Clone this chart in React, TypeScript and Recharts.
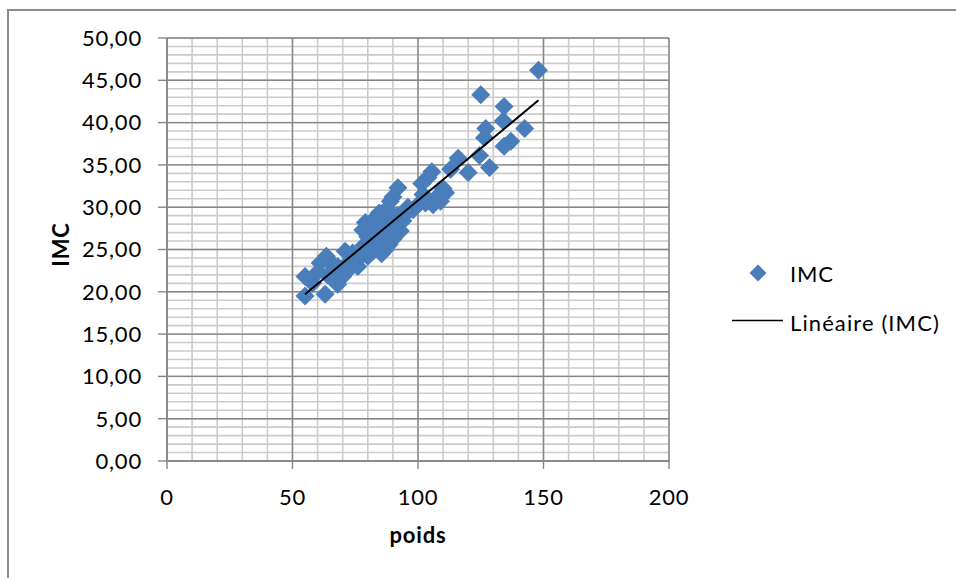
import React from 'react';
import {
  ScatterChart,
  Scatter,
  XAxis,
  YAxis,
  CartesianGrid,
  Legend,
} from 'recharts';

// Body weight (kg) and matching body-mass index for each person
const poids = [
  55, 55, 58, 60, 61, 63, 63.5, 64, 65, 66,
  68, 68, 69, 70, 71, 72, 73, 74, 75, 76,
  77, 78, 78.5, 79, 80, 80, 81, 81.5, 82, 82.5,
  83, 84, 84.5, 85, 85.5, 86, 86.5, 87, 87.5, 88,
  88.5, 89, 89.5, 90, 90, 91, 92, 92, 93, 94,
  95, 96, 98, 100, 101.5, 102, 103, 104, 105.5, 106,
  107, 108.5, 109, 110, 111, 113, 116, 120, 124.5, 125,
  126.5, 127, 128.5, 134, 134.3, 134.3, 137, 142.5, 148,
];
const imc = [
  19.5, 21.8, 21.0, 22.3, 23.4, 19.7, 24.2, 22.0, 23.6, 21.5,
  20.9, 23.0, 22.2, 21.8, 24.8, 23.4, 22.8, 24.6, 23.5, 23.0,
  24.2, 27.3, 25.5, 28.2, 26.5, 24.2, 27.8, 25.8, 24.8, 28.6,
  26.8, 25.2, 29.3, 27.5, 24.5, 26.2, 28.4, 25.0, 29.8, 27.0,
  25.6, 30.7, 28.0, 31.2, 26.2, 27.5, 32.3, 29.0, 27.2, 28.4,
  29.2, 30.0, 29.7, 30.3, 32.8, 31.5, 30.5, 33.5, 34.2, 30.3,
  31.0, 31.5, 30.7, 32.2, 31.7, 34.5, 35.8, 34.1, 36.1, 43.3,
  38.2, 39.3, 34.7, 40.2, 41.9, 37.2, 37.8, 39.3, 46.2,
];

const xTicks = [0, 50, 100, 150, 200];
const yTicks = [0, 5, 10, 15, 20, 25, 30, 35, 40, 45, 50];
const xMinorStep = 10;
const yMinorStep = 1;

const points = poids.map((p, i) => ({ poids: p, imc: imc[i] }));

// Least-squares fit used for the linear trend line
function linearFit(xs: number[], ys: number[]) {
  const n = xs.length;
  const mx = xs.reduce((s, v) => s + v, 0) / n;
  const my = ys.reduce((s, v) => s + v, 0) / n;
  let sxy = 0;
  let sxx = 0;
  for (let i = 0; i < n; i++) {
    sxy += (xs[i] - mx) * (ys[i] - my);
    sxx += (xs[i] - mx) * (xs[i] - mx);
  }
  const slope = sxy / sxx;
  return { slope, intercept: my - slope * mx };
}

const fit = linearFit(poids, imc);
const trend = [Math.min(...poids), Math.max(...poids)].map((x) => ({
  poids: x,
  imc: fit.intercept + fit.slope * x,
}));

const steps = (max: number, step: number) => {
  const out: number[] = [];
  for (let v = 0; v <= max + 1e-9; v += step) out.push(v);
  return out;
};
const xMinor = steps(200, xMinorStep);
const yMinor = steps(50, yMinorStep);

const FONT = 'Lato, Carlito, Calibri, "Open Sans", sans-serif';
const SPACING = 0.8;
const BLUE = '#4a7ebb';
const AXIS_GRAY = '#868686';

const Diamond = (props: any) => {
  const { cx, cy } = props;
  if (cx == null || cy == null) return null;
  const r = 9.5;
  return (
    <path
      d={`M${cx},${cy - r} L${cx + r},${cy} L${cx},${cy + r} L${cx - r},${cy} Z`}
      fill={BLUE}
    />
  );
};

const NoPoint = () => <g />;

const fmt = (v: number) => v.toFixed(2).replace('.', ',');

const YTitle = (props: any) => {
  const { viewBox } = props;
  const cx = viewBox.x - 18;
  const cy = viewBox.y + viewBox.height / 2 - 5;
  return (
    <text
      x={cx}
      y={cy}
      transform={`rotate(-90, ${cx}, ${cy})`}
      textAnchor="middle"
      fontFamily={FONT}
      fontWeight="bold"
      fontSize={22}
      letterSpacing={SPACING}
      fill="#000"
    >
      IMC
    </text>
  );
};

const XTitle = (props: any) => {
  const { viewBox } = props;
  const cx = viewBox.x + viewBox.width / 2;
  const cy = viewBox.y + 82;
  return (
    <text
      x={cx}
      y={cy}
      textAnchor="middle"
      fontFamily={FONT}
      fontWeight="bold"
      fontSize={22}
      letterSpacing={SPACING}
      fill="#000"
    >
      poids
    </text>
  );
};

const LegendContent = (props: any) => {
  const payload = props.payload || [];
  const items = payload.map((p: any) => p.value);
  return (
    <svg width={230} height={90} style={{ display: 'block', overflow: 'visible' }}>
      <path d="M33,9.5 L41.5,18 L33,26.5 L24.5,18 Z" fill={BLUE} />
      <text x={65} y={26.5} fontFamily={FONT} fontSize={22} letterSpacing={SPACING} fill="#000">
        {items[0]}
      </text>
      <line x1={7} y1={65.5} x2={58} y2={65.5} stroke="#000" strokeWidth={1.5} />
      <text x={65} y={75.5} fontFamily={FONT} fontSize={22} letterSpacing={1.1} fill="#000">
        {items[1]}
      </text>
    </svg>
  );
};

const tickStyle = { fill: '#000', fontSize: 22, fontFamily: FONT, letterSpacing: SPACING };

export default function App() {
  return (
    <div
      style={{
        position: 'absolute',
        left: 0,
        top: 0,
        width: 956,
        height: 578,
        overflow: 'hidden',
        background: '#fff',
      }}
    >
      <div
        style={{
          position: 'absolute',
          left: 7,
          top: 9,
          width: 1100,
          height: 1100,
          border: '2px solid #8c8c8c',
        }}
      />
      <div style={{ position: 'absolute', left: 0, top: 0 }}>
        <ScatterChart
          width={956}
          height={578}
          margin={{ top: 38, right: 287, left: 87, bottom: 57 }}
        >
          <CartesianGrid
            horizontalValues={yMinor}
            verticalValues={xMinor}
            stroke="#cbcbcb"
            strokeWidth={1.6}
          />
          <CartesianGrid stroke={AXIS_GRAY} strokeWidth={1.4} />
          <XAxis
            type="number"
            dataKey="poids"
            domain={[0, 200]}
            ticks={xTicks}
            interval={0}
            height={60}
            tickSize={8}
            tickMargin={20}
            axisLine={{ stroke: AXIS_GRAY, strokeWidth: 1.4 }}
            tickLine={{ stroke: AXIS_GRAY, strokeWidth: 1.4 }}
            tick={tickStyle}
            label={<XTitle />}
          />
          <YAxis
            type="number"
            dataKey="imc"
            domain={[0, 50]}
            ticks={yTicks}
            interval={0}
            width={80}
            tickSize={9}
            tickMargin={16}
            tickFormatter={fmt}
            axisLine={{ stroke: AXIS_GRAY, strokeWidth: 1.4 }}
            tickLine={{ stroke: AXIS_GRAY, strokeWidth: 1.4 }}
            tick={tickStyle}
            label={<YTitle />}
          />
          <Legend
            layout="horizontal"
            align="center"
            verticalAlign="middle"
            wrapperStyle={{ left: 725, top: 255, width: 230, height: 90 }}
            content={<LegendContent />}
          />
          <Scatter
            name="IMC"
            data={points}
            fill={BLUE}
            shape={<Diamond />}
            isAnimationActive={false}
          />
          <Scatter
            name="Linéaire (IMC)"
            data={trend}
            fill="#000"
            line={{ stroke: '#000', strokeWidth: 2 }}
            shape={<NoPoint />}
            legendType="line"
            isAnimationActive={false}
          />
        </ScatterChart>
      </div>
    </div>
  );
}
